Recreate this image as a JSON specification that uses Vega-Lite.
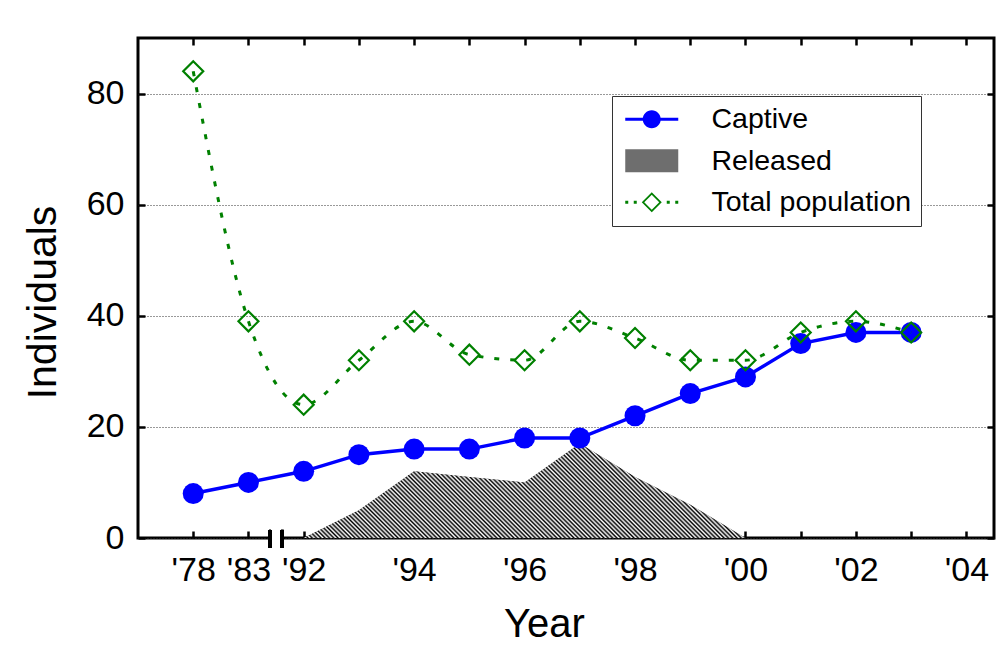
{
  "$schema": "https://vega.github.io/schema/vega-lite/v6.json",
  "width": 856,
  "height": 500,
  "autosize": {"type": "none"},
  "padding": {"left": 138, "top": 38, "right": 14, "bottom": 111},
  "background": "white",
  "config": {
    "font": "Liberation Sans",
    "view": {"stroke": "black", "strokeWidth": 3}
  },
  "data": {
    "values": [
      {"idx": 0, "year": "'78", "captive": 8, "total": 84, "released": null},
      {"idx": 1, "year": "'83", "captive": 10, "total": 39, "released": null},
      {"idx": 2, "year": "'92", "captive": 12, "total": 24, "released": 0},
      {"idx": 3, "year": "'93", "captive": 15, "total": 32, "released": 5},
      {"idx": 4, "year": "'94", "captive": 16, "total": 39, "released": 12},
      {"idx": 5, "year": "'95", "captive": 16, "total": 33, "released": 11},
      {"idx": 6, "year": "'96", "captive": 18, "total": 32, "released": 10},
      {"idx": 7, "year": "'97", "captive": 18, "total": 39, "released": 17},
      {"idx": 8, "year": "'98", "captive": 22, "total": 36, "released": 11},
      {"idx": 9, "year": "'99", "captive": 26, "total": 32, "released": 6},
      {"idx": 10, "year": "'00", "captive": 29, "total": 32, "released": 0},
      {"idx": 11, "year": "'01", "captive": 35, "total": 37, "released": null},
      {"idx": 12, "year": "'02", "captive": 37, "total": 39, "released": null},
      {"idx": 13, "year": "'03", "captive": 37, "total": 37, "released": null}
    ]
  },
  "layer": [
    {
      "transform": [{"filter": "isValid(datum.released)"}],
      "mark": {"type": "area", "opacity": 1},
      "encoding": {
        "x": {"field": "idx", "type": "quantitative", "scale": {"domain": [-1, 14.5], "nice": false, "zero": false},
          "axis": {"orient": "bottom", "values": [0,1,2,3,4,5,6,7,8,9,10,11,12,13,14],
            "labelExpr": "[\"'78\",\"'83\",\"'92\",\"\",\"'94\",\"\",\"'96\",\"\",\"'98\",\"\",\"'00\",\"\",\"'02\",\"\",\"'04\"][datum.value]",
            "labelOverlap": false, "labelFlush": false, "labelBound": false, "domain": false, "grid": false,
            "tickSize": -7, "tickWidth": 2.5, "tickColor": "black", "labelFontSize": 34, "labelColor": "black", "labelPadding": 22,
            "title": "Year", "titleFontSize": 40, "titleFontWeight": "normal", "titleColor": "black", "titleX": 406, "titleY": 66, "titleAlign": "center", "titleBaseline": "top"}},
        "y": {"field": "released", "type": "quantitative", "scale": {"domain": [0, 90], "nice": false, "zero": false},
          "axis": {"orient": "left", "values": [0, 20, 40, 60, 80], "domain": false, "grid": true, "gridColor": "#333333", "gridDash": [1, 2], "gridWidth": 1,
            "tickSize": -7, "tickWidth": 2.5, "tickColor": "black", "labelFontSize": 34, "labelColor": "black", "labelPadding": 21,
            "title": "Individuals", "titleFontSize": 41, "titleFontWeight": "normal", "titleColor": "black", "titleX": -74, "titleY": 264, "titleAngle": -90, "titleBaseline": "bottom", "titleAlign": "center"}},
        "color": {"datum": "Released", "type": "nominal",
          "scale": {"domain": ["Captive", "Released", "Total population"], "range": ["#0000ff", "#6e6e6e", "#008000"]},
          "legend": {"orient": "none", "legendX": 474, "legendY": 58, "title": null, "direction": "vertical", "symbolSize": 400,
            "symbolOpacity": 1, "symbolStrokeWidth": 0,
            "labelFontSize": 28.5, "labelColor": "black", "labelOffset": 62, "padding": 9, "rowPadding": 12.5, "labelLimit": 400,
            "strokeColor": "#333333", "fillColor": "white"}
        }
      }
    },
    {
      "transform": [{"filter": "isValid(datum.released)"}],
      "mark": {"type": "area", "opacity": 1, "color": {"gradient": "linear", "x1": 0, "y1": 1, "x2": 1.1607, "y2": 0.7518, "stops": [
        {"offset": 0, "color": "#000"}, {"offset": 0.004, "color": "#fff"}, {"offset": 0.008, "color": "#000"}, {"offset": 0.012, "color": "#fff"}, {"offset": 0.016, "color": "#000"}, {"offset": 0.02, "color": "#fff"}, {"offset": 0.024, "color": "#000"}, {"offset": 0.028, "color": "#fff"}, {"offset": 0.032, "color": "#000"}, {"offset": 0.036, "color": "#fff"},
        {"offset": 0.04, "color": "#000"}, {"offset": 0.044, "color": "#fff"}, {"offset": 0.048, "color": "#000"}, {"offset": 0.052, "color": "#fff"}, {"offset": 0.056, "color": "#000"}, {"offset": 0.06, "color": "#fff"}, {"offset": 0.064, "color": "#000"}, {"offset": 0.068, "color": "#fff"}, {"offset": 0.072, "color": "#000"}, {"offset": 0.076, "color": "#fff"},
        {"offset": 0.08, "color": "#000"}, {"offset": 0.084, "color": "#fff"}, {"offset": 0.088, "color": "#000"}, {"offset": 0.092, "color": "#fff"}, {"offset": 0.096, "color": "#000"}, {"offset": 0.1, "color": "#fff"}, {"offset": 0.104, "color": "#000"}, {"offset": 0.108, "color": "#fff"}, {"offset": 0.112, "color": "#000"}, {"offset": 0.116, "color": "#fff"},
        {"offset": 0.12, "color": "#000"}, {"offset": 0.124, "color": "#fff"}, {"offset": 0.128, "color": "#000"}, {"offset": 0.132, "color": "#fff"}, {"offset": 0.136, "color": "#000"}, {"offset": 0.14, "color": "#fff"}, {"offset": 0.144, "color": "#000"}, {"offset": 0.148, "color": "#fff"}, {"offset": 0.152, "color": "#000"}, {"offset": 0.156, "color": "#fff"},
        {"offset": 0.16, "color": "#000"}, {"offset": 0.164, "color": "#fff"}, {"offset": 0.168, "color": "#000"}, {"offset": 0.172, "color": "#fff"}, {"offset": 0.176, "color": "#000"}, {"offset": 0.18, "color": "#fff"}, {"offset": 0.184, "color": "#000"}, {"offset": 0.188, "color": "#fff"}, {"offset": 0.192, "color": "#000"}, {"offset": 0.196, "color": "#fff"},
        {"offset": 0.2, "color": "#000"}, {"offset": 0.204, "color": "#fff"}, {"offset": 0.208, "color": "#000"}, {"offset": 0.212, "color": "#fff"}, {"offset": 0.216, "color": "#000"}, {"offset": 0.22, "color": "#fff"}, {"offset": 0.224, "color": "#000"}, {"offset": 0.228, "color": "#fff"}, {"offset": 0.232, "color": "#000"}, {"offset": 0.236, "color": "#fff"},
        {"offset": 0.24, "color": "#000"}, {"offset": 0.244, "color": "#fff"}, {"offset": 0.248, "color": "#000"}, {"offset": 0.252, "color": "#fff"}, {"offset": 0.256, "color": "#000"}, {"offset": 0.26, "color": "#fff"}, {"offset": 0.264, "color": "#000"}, {"offset": 0.268, "color": "#fff"}, {"offset": 0.272, "color": "#000"}, {"offset": 0.276, "color": "#fff"},
        {"offset": 0.28, "color": "#000"}, {"offset": 0.284, "color": "#fff"}, {"offset": 0.288, "color": "#000"}, {"offset": 0.292, "color": "#fff"}, {"offset": 0.296, "color": "#000"}, {"offset": 0.3, "color": "#fff"}, {"offset": 0.304, "color": "#000"}, {"offset": 0.308, "color": "#fff"}, {"offset": 0.312, "color": "#000"}, {"offset": 0.316, "color": "#fff"},
        {"offset": 0.32, "color": "#000"}, {"offset": 0.324, "color": "#fff"}, {"offset": 0.328, "color": "#000"}, {"offset": 0.332, "color": "#fff"}, {"offset": 0.336, "color": "#000"}, {"offset": 0.34, "color": "#fff"}, {"offset": 0.344, "color": "#000"}, {"offset": 0.348, "color": "#fff"}, {"offset": 0.352, "color": "#000"}, {"offset": 0.356, "color": "#fff"},
        {"offset": 0.36, "color": "#000"}, {"offset": 0.364, "color": "#fff"}, {"offset": 0.368, "color": "#000"}, {"offset": 0.372, "color": "#fff"}, {"offset": 0.376, "color": "#000"}, {"offset": 0.38, "color": "#fff"}, {"offset": 0.384, "color": "#000"}, {"offset": 0.388, "color": "#fff"}, {"offset": 0.392, "color": "#000"}, {"offset": 0.396, "color": "#fff"},
        {"offset": 0.4, "color": "#000"}, {"offset": 0.404, "color": "#fff"}, {"offset": 0.408, "color": "#000"}, {"offset": 0.412, "color": "#fff"}, {"offset": 0.416, "color": "#000"}, {"offset": 0.42, "color": "#fff"}, {"offset": 0.424, "color": "#000"}, {"offset": 0.428, "color": "#fff"}, {"offset": 0.432, "color": "#000"}, {"offset": 0.436, "color": "#fff"},
        {"offset": 0.44, "color": "#000"}, {"offset": 0.444, "color": "#fff"}, {"offset": 0.448, "color": "#000"}, {"offset": 0.452, "color": "#fff"}, {"offset": 0.456, "color": "#000"}, {"offset": 0.46, "color": "#fff"}, {"offset": 0.464, "color": "#000"}, {"offset": 0.468, "color": "#fff"}, {"offset": 0.472, "color": "#000"}, {"offset": 0.476, "color": "#fff"},
        {"offset": 0.48, "color": "#000"}, {"offset": 0.484, "color": "#fff"}, {"offset": 0.488, "color": "#000"}, {"offset": 0.492, "color": "#fff"}, {"offset": 0.496, "color": "#000"}, {"offset": 0.5, "color": "#fff"}, {"offset": 0.504, "color": "#000"}, {"offset": 0.508, "color": "#fff"}, {"offset": 0.512, "color": "#000"}, {"offset": 0.516, "color": "#fff"},
        {"offset": 0.52, "color": "#000"}, {"offset": 0.524, "color": "#fff"}, {"offset": 0.528, "color": "#000"}, {"offset": 0.532, "color": "#fff"}, {"offset": 0.536, "color": "#000"}, {"offset": 0.54, "color": "#fff"}, {"offset": 0.544, "color": "#000"}, {"offset": 0.548, "color": "#fff"}, {"offset": 0.552, "color": "#000"}, {"offset": 0.556, "color": "#fff"},
        {"offset": 0.56, "color": "#000"}, {"offset": 0.564, "color": "#fff"}, {"offset": 0.568, "color": "#000"}, {"offset": 0.572, "color": "#fff"}, {"offset": 0.576, "color": "#000"}, {"offset": 0.58, "color": "#fff"}, {"offset": 0.584, "color": "#000"}, {"offset": 0.588, "color": "#fff"}, {"offset": 0.592, "color": "#000"}, {"offset": 0.596, "color": "#fff"},
        {"offset": 0.6, "color": "#000"}, {"offset": 0.604, "color": "#fff"}, {"offset": 0.608, "color": "#000"}, {"offset": 0.612, "color": "#fff"}, {"offset": 0.616, "color": "#000"}, {"offset": 0.62, "color": "#fff"}, {"offset": 0.624, "color": "#000"}, {"offset": 0.628, "color": "#fff"}, {"offset": 0.632, "color": "#000"}, {"offset": 0.636, "color": "#fff"},
        {"offset": 0.64, "color": "#000"}, {"offset": 0.644, "color": "#fff"}, {"offset": 0.648, "color": "#000"}, {"offset": 0.652, "color": "#fff"}, {"offset": 0.656, "color": "#000"}, {"offset": 0.66, "color": "#fff"}, {"offset": 0.664, "color": "#000"}, {"offset": 0.668, "color": "#fff"}, {"offset": 0.672, "color": "#000"}, {"offset": 0.676, "color": "#fff"},
        {"offset": 0.68, "color": "#000"}, {"offset": 0.684, "color": "#fff"}, {"offset": 0.688, "color": "#000"}, {"offset": 0.692, "color": "#fff"}, {"offset": 0.696, "color": "#000"}, {"offset": 0.7, "color": "#fff"}, {"offset": 0.704, "color": "#000"}, {"offset": 0.708, "color": "#fff"}, {"offset": 0.712, "color": "#000"}, {"offset": 0.716, "color": "#fff"},
        {"offset": 0.72, "color": "#000"}, {"offset": 0.724, "color": "#fff"}, {"offset": 0.728, "color": "#000"}, {"offset": 0.732, "color": "#fff"}, {"offset": 0.736, "color": "#000"}, {"offset": 0.74, "color": "#fff"}, {"offset": 0.744, "color": "#000"}, {"offset": 0.748, "color": "#fff"}, {"offset": 0.752, "color": "#000"}, {"offset": 0.756, "color": "#fff"},
        {"offset": 0.76, "color": "#000"}, {"offset": 0.764, "color": "#fff"}, {"offset": 0.768, "color": "#000"}, {"offset": 0.772, "color": "#fff"}, {"offset": 0.776, "color": "#000"}, {"offset": 0.78, "color": "#fff"}, {"offset": 0.784, "color": "#000"}, {"offset": 0.788, "color": "#fff"}, {"offset": 0.792, "color": "#000"}, {"offset": 0.796, "color": "#fff"},
        {"offset": 0.8, "color": "#000"}, {"offset": 0.804, "color": "#fff"}, {"offset": 0.808, "color": "#000"}, {"offset": 0.812, "color": "#fff"}, {"offset": 0.816, "color": "#000"}, {"offset": 0.82, "color": "#fff"}, {"offset": 0.824, "color": "#000"}, {"offset": 0.828, "color": "#fff"}, {"offset": 0.832, "color": "#000"}, {"offset": 0.836, "color": "#fff"},
        {"offset": 0.84, "color": "#000"}, {"offset": 0.844, "color": "#fff"}, {"offset": 0.848, "color": "#000"}, {"offset": 0.852, "color": "#fff"}, {"offset": 0.856, "color": "#000"}, {"offset": 0.86, "color": "#fff"}, {"offset": 0.864, "color": "#000"}, {"offset": 0.868, "color": "#fff"}, {"offset": 0.872, "color": "#000"}, {"offset": 0.876, "color": "#fff"},
        {"offset": 0.88, "color": "#000"}, {"offset": 0.884, "color": "#fff"}, {"offset": 0.888, "color": "#000"}, {"offset": 0.892, "color": "#fff"}, {"offset": 0.896, "color": "#000"}, {"offset": 0.9, "color": "#fff"}, {"offset": 0.904, "color": "#000"}, {"offset": 0.908, "color": "#fff"}, {"offset": 0.912, "color": "#000"}, {"offset": 0.916, "color": "#fff"},
        {"offset": 0.92, "color": "#000"}, {"offset": 0.924, "color": "#fff"}, {"offset": 0.928, "color": "#000"}, {"offset": 0.932, "color": "#fff"}, {"offset": 0.936, "color": "#000"}, {"offset": 0.94, "color": "#fff"}, {"offset": 0.944, "color": "#000"}, {"offset": 0.948, "color": "#fff"}, {"offset": 0.952, "color": "#000"}, {"offset": 0.956, "color": "#fff"},
        {"offset": 0.96, "color": "#000"}, {"offset": 0.964, "color": "#fff"}, {"offset": 0.968, "color": "#000"}, {"offset": 0.972, "color": "#fff"}, {"offset": 0.976, "color": "#000"}, {"offset": 0.98, "color": "#fff"}, {"offset": 0.984, "color": "#000"}, {"offset": 0.988, "color": "#fff"}, {"offset": 0.992, "color": "#000"}, {"offset": 0.996, "color": "#fff"},
        {"offset": 1, "color": "#000"}
      ]}},
      "encoding": {
        "x": {"field": "idx", "type": "quantitative", "scale": {"domain": [-1, 14.5], "nice": false, "zero": false}, "axis": null},
        "y": {"field": "released", "type": "quantitative", "scale": {"domain": [0, 90], "nice": false, "zero": false}, "axis": null}
      }
    },
    {
      "mark": {"type": "line", "strokeWidth": 3.5},
      "encoding": {
        "x": {"field": "idx", "type": "quantitative", "scale": {"domain": [-1, 14.5], "nice": false, "zero": false},
          "axis": {"orient": "top", "values": [0,1,2,3,4,5,6,7,8,9,10,11,12,13,14], "labels": false, "domain": false, "grid": false, "tickSize": -7, "tickWidth": 2.5, "tickColor": "black", "title": null}},
        "y": {"field": "captive", "type": "quantitative", "scale": {"domain": [0, 90], "nice": false, "zero": false},
          "axis": {"orient": "right", "values": [0, 20, 40, 60, 80], "labels": false, "domain": false, "grid": false, "tickSize": -7, "tickWidth": 2.5, "tickColor": "black", "title": null}},
        "color": {"datum": "Captive", "type": "nominal"}
      }
    },
    {
      "mark": {"type": "point", "shape": "circle", "filled": true, "color": "#0000ff", "size": 441, "opacity": 1},
      "encoding": {
        "x": {"field": "idx", "type": "quantitative", "scale": {"domain": [-1, 14.5], "nice": false, "zero": false}, "axis": null},
        "y": {"field": "captive", "type": "quantitative", "scale": {"domain": [0, 90], "nice": false, "zero": false}, "axis": null}
      }
    },
    {
      "mark": {"type": "line", "strokeWidth": 3, "strokeDash": [5, 11], "interpolate": "monotone"},
      "encoding": {
        "x": {"field": "idx", "type": "quantitative", "scale": {"domain": [-1, 14.5], "nice": false, "zero": false}, "axis": null},
        "y": {"field": "total", "type": "quantitative", "scale": {"domain": [0, 90], "nice": false, "zero": false}, "axis": null},
        "color": {"datum": "Total population", "type": "nominal"}
      }
    },
    {
      "mark": {"type": "point", "shape": "diamond", "filled": false, "stroke": "#008000", "strokeWidth": 2.2, "size": 400, "opacity": 1},
      "encoding": {
        "x": {"field": "idx", "type": "quantitative", "scale": {"domain": [-1, 14.5], "nice": false, "zero": false}, "axis": null},
        "y": {"field": "total", "type": "quantitative", "scale": {"domain": [0, 90], "nice": false, "zero": false}, "axis": null}
      }
    },
    {
      "mark": {"type": "point", "opacity": 0, "filled": true},
      "encoding": {
        "x": {"field": "idx", "type": "quantitative", "scale": {"domain": [-1, 14.5], "nice": false, "zero": false}, "axis": null},
        "y": {"field": "captive", "type": "quantitative", "scale": {"domain": [0, 90], "nice": false, "zero": false}, "axis": null},
        "shape": {"datum": "Captive", "type": "nominal",
          "scale": {"domain": ["Captive", "Released", "Total population"], "range": [
            "M -1 -0.15 H 4.3 V 0.15 H -1 Z M 2.55 0 A 0.9 0.9 0 1 1 0.75 0 A 0.9 0.9 0 1 1 2.55 0 Z",
            "M -1 -1.15 H 4.3 V 1.15 H -1 Z",
            "M -1 -0.15 H -0.7 V 0.15 H -1 Z M -0.15 -0.15 H 0.15 V 0.15 H -0.15 Z M 0.65 0 L 1.65 -1 L 2.65 0 L 1.65 1 Z M 0.9 0 L 1.65 0.75 L 2.4 0 L 1.65 -0.75 Z M 3.15 -0.15 H 3.45 V 0.15 H 3.15 Z M 4 -0.15 H 4.3 V 0.15 H 4 Z"]},
          "legend": {"orient": "none", "legendX": 474, "legendY": 58, "title": null}}
      }
    },
    {
      "mark": {"type": "rule", "color": "white", "strokeWidth": 6},
      "encoding": {
        "x": {"datum": 1.42, "type": "quantitative", "scale": {"domain": [-1, 14.5], "nice": false, "zero": false}, "axis": null},
        "x2": {"datum": 1.58},
        "y": {"datum": 0, "type": "quantitative", "scale": {"domain": [0, 90], "nice": false, "zero": false}, "axis": null}
      }
    },
    {
      "mark": {"type": "rule", "color": "black", "strokeWidth": 3},
      "encoding": {
        "x": {"datum": 1.39, "type": "quantitative", "scale": {"domain": [-1, 14.5], "nice": false, "zero": false}, "axis": null},
        "y": {"datum": 1.45, "type": "quantitative", "scale": {"domain": [0, 90], "nice": false, "zero": false}, "axis": null},
        "y2": {"datum": -1.8}
      }
    },
    {
      "mark": {"type": "rule", "color": "black", "strokeWidth": 3},
      "encoding": {
        "x": {"datum": 1.61, "type": "quantitative", "scale": {"domain": [-1, 14.5], "nice": false, "zero": false}, "axis": null},
        "y": {"datum": 1.45, "type": "quantitative", "scale": {"domain": [0, 90], "nice": false, "zero": false}, "axis": null},
        "y2": {"datum": -1.8}
      }
    }
  ],
  "resolve": {"axis": {"x": "independent", "y": "independent"}}
}
